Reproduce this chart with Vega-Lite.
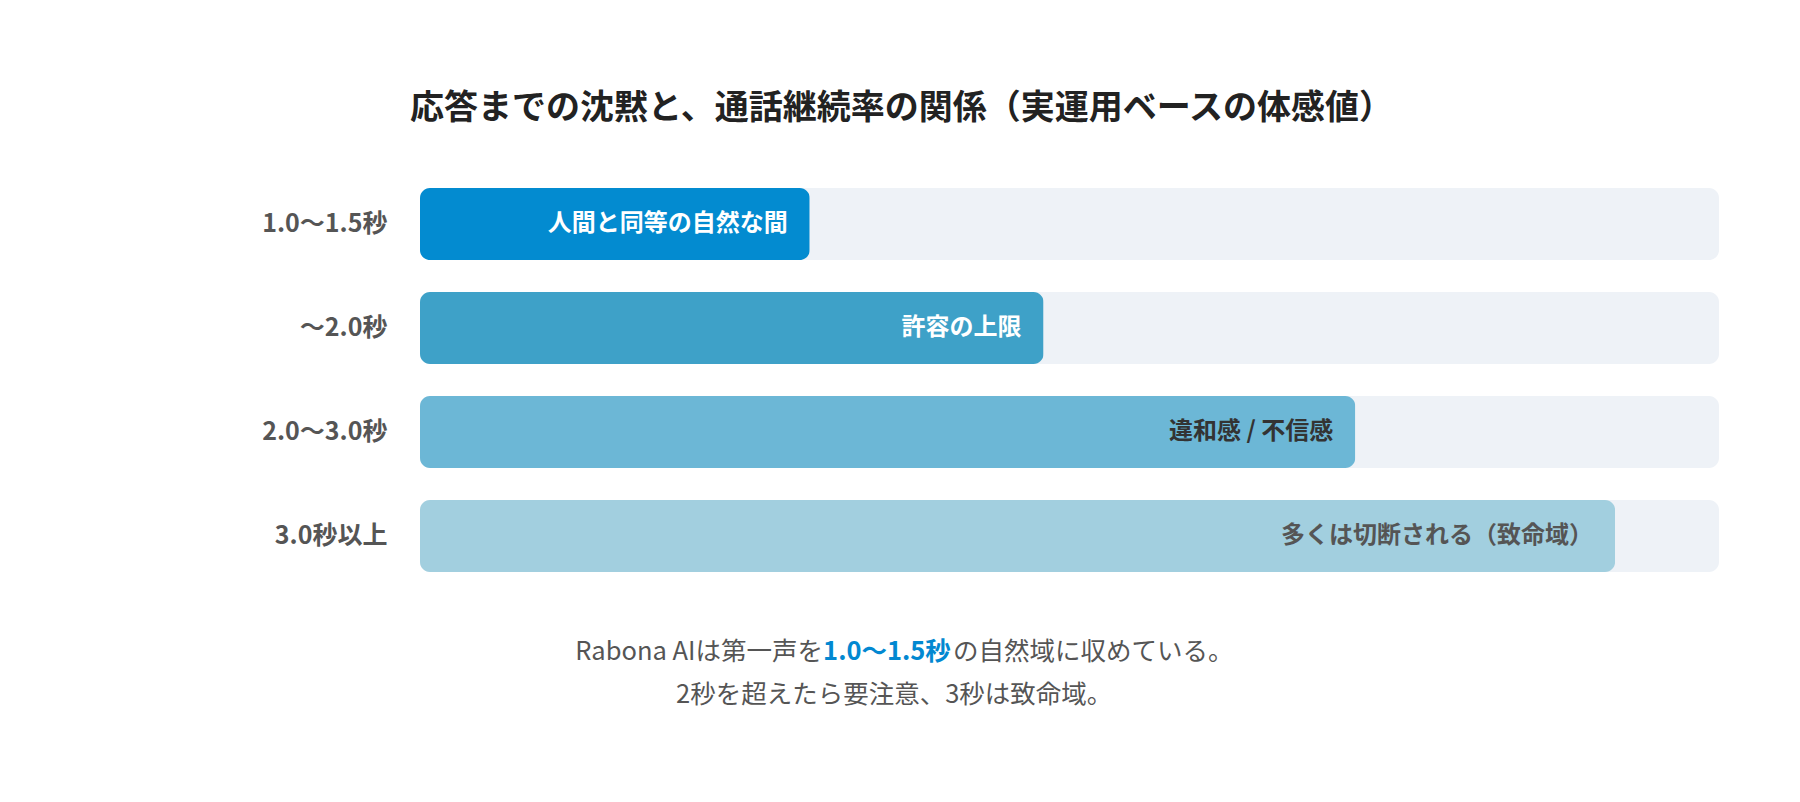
{
  "$schema": "https://vega.github.io/schema/vega-lite/v6.json",
  "autosize": "none",
  "width": 1299,
  "height": 384,
  "padding": {"left": 420, "top": 188, "right": 81, "bottom": 230},
  "background": "white",
  "title": {
    "text": "応答までの沈黙と、通話継続率の関係（実運用ベースの体感値）",
    "anchor": "start",
    "frame": "group",
    "dx": -10,
    "offset": 62,
    "font": "Noto Sans CJK JP",
    "fontSize": 34,
    "fontWeight": "bold",
    "color": "#222222"
  },
  "data": {
    "values": [
      {"range": "1.0〜1.5秒", "score": 30, "note": "人間と同等の自然な間"},
      {"range": "〜2.0秒", "score": 48, "note": "許容の上限"},
      {"range": "2.0〜3.0秒", "score": 72, "note": "違和感 / 不信感"},
      {"range": "3.0秒以上", "score": 92, "note": "多くは切断される（致命域）"}
    ]
  },
  "encoding": {
    "y": {
      "field": "range",
      "type": "nominal",
      "sort": null,
      "scale": {"paddingInner": 0.3077, "paddingOuter": 0},
      "axis": {
        "title": null,
        "domain": false,
        "ticks": false,
        "labelPadding": 33,
        "labelFont": "Noto Sans CJK JP",
        "labelFontSize": 25,
        "labelFontWeight": "bold",
        "labelColor": "#555555"
      }
    }
  },
  "layer": [
    {
      "mark": {"type": "bar", "cornerRadius": 10, "color": "#eef2f7"},
      "encoding": {
        "x": {"datum": 0, "type": "quantitative", "scale": {"domain": [0, 100]}, "axis": null},
        "x2": {"datum": 100}
      }
    },
    {
      "mark": {"type": "bar", "cornerRadius": 10},
      "encoding": {
        "x": {"field": "score", "type": "quantitative", "scale": {"domain": [0, 100]}, "axis": null},
        "color": {
          "field": "range",
          "type": "nominal",
          "scale": {
            "domain": ["1.0〜1.5秒", "〜2.0秒", "2.0〜3.0秒", "3.0秒以上"],
            "range": ["#038bd0", "#3ea1c8", "#6cb7d6", "#a2cfdf"]
          },
          "legend": null
        }
      }
    },
    {
      "mark": {
        "type": "text",
        "align": "right",
        "baseline": "middle",
        "dx": -22,
        "font": "Noto Sans CJK JP",
        "fontSize": 24,
        "fontWeight": "bold"
      },
      "encoding": {
        "x": {"field": "score", "type": "quantitative"},
        "text": {"field": "note"},
        "color": {
          "field": "range",
          "type": "nominal",
          "scale": {
            "domain": ["1.0〜1.5秒", "〜2.0秒", "2.0〜3.0秒", "3.0秒以上"],
            "range": ["#ffffff", "#ffffff", "#333333", "#555555"]
          },
          "legend": null
        }
      }
    },
    {
      "data": {"values": [{"part": "Rabona AIは第一声を"}]},
      "mark": {"type": "text", "align": "right", "baseline": "middle", "dx": -64, "dy": 116,
        "font": "Noto Sans CJK JP", "fontSize": 25.5, "color": "#555555"},
      "encoding": {
        "x": {"datum": 35.95, "type": "quantitative"},
        "y": {"datum": "3.0秒以上"},
        "text": {"field": "part"}
      }
    },
    {
      "data": {"values": [{"part": "1.0〜1.5秒"}]},
      "mark": {"type": "text", "align": "center", "baseline": "middle", "dy": 116,
        "font": "Noto Sans CJK JP", "fontSize": 25.5, "fontWeight": "bold", "color": "#0288d1"},
      "encoding": {
        "x": {"datum": 35.95, "type": "quantitative"},
        "y": {"datum": "3.0秒以上"},
        "text": {"field": "part"}
      }
    },
    {
      "data": {"values": [{"part": "の自然域に収めている。"}]},
      "mark": {"type": "text", "align": "left", "baseline": "middle", "dx": 66, "dy": 116,
        "font": "Noto Sans CJK JP", "fontSize": 25.5, "color": "#555555"},
      "encoding": {
        "x": {"datum": 35.95, "type": "quantitative"},
        "y": {"datum": "3.0秒以上"},
        "text": {"field": "part"}
      }
    },
    {
      "data": {"values": [{"part": "2秒を超えたら要注意、3秒は致命域。"}]},
      "mark": {"type": "text", "align": "center", "baseline": "middle", "dy": 159,
        "font": "Noto Sans CJK JP", "fontSize": 25.5, "color": "#555555"},
      "encoding": {
        "x": {"datum": 36.5, "type": "quantitative"},
        "y": {"datum": "3.0秒以上"},
        "text": {"field": "part"}
      }
    }
  ],
  "resolve": {"scale": {"color": "independent"}},
  "config": {
    "view": {"stroke": null},
    "font": "Noto Sans CJK JP"
  }
}
